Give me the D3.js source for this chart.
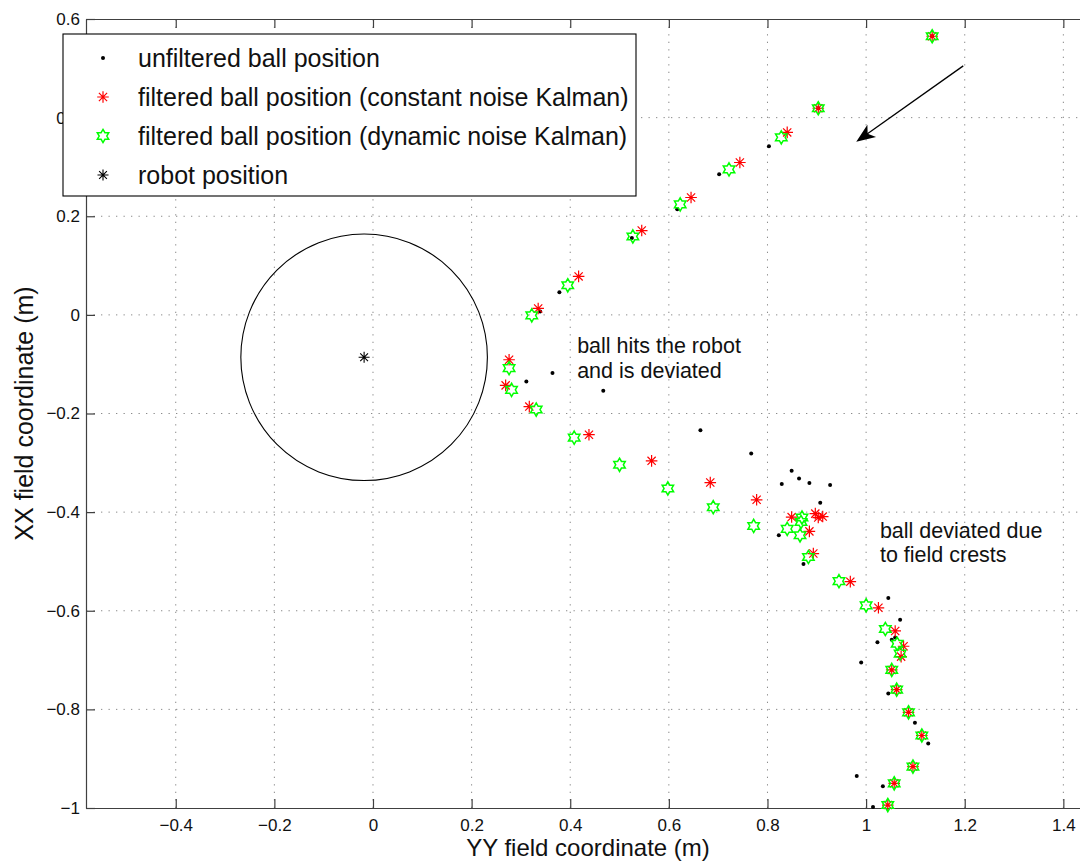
<!DOCTYPE html>
<html>
<head>
<meta charset="utf-8">
<script src="https://cdn.jsdelivr.net/npm/d3@7"></script>
<style>
  body { margin: 0; background: #fff; }
  svg { display: block; font-family: "Liberation Sans", Arial, Helvetica, sans-serif; }
</style>
</head>
<body>
<svg id="chart" width="1080" height="863"></svg>
<script>
// ---- data (metres) ----
// unfiltered ball position
var rawYY = [1.134, 0.903, 0.803, 0.702, 0.617, 0.525, 0.378, 0.339, 0.311, 0.364, 0.467, 0.664, 0.767, 0.849, 0.829, 0.864, 0.885,
             0.927, 0.907, 0.823, 0.873, 1.045, 1.069, 1.059, 1.052, 1.023, 0.990, 1.045, 1.099, 1.126, 0.981, 1.034, 1.014];
var rawXX = [0.565, 0.419, 0.342, 0.285, 0.214, 0.156, 0.046, 0.007, -0.135, -0.118, -0.154, -0.234, -0.281, -0.316, -0.343, -0.332, -0.341,
             -0.345, -0.381, -0.447, -0.505, -0.574, -0.618, -0.654, -0.659, -0.664, -0.705, -0.768, -0.827, -0.869, -0.935, -0.956, -0.998];
// filtered, constant noise Kalman
var constYY = [1.134, 0.903, 0.840, 0.744, 0.645, 0.545, 0.417, 0.335, 0.276, 0.269, 0.317, 0.438, 0.565, 0.684, 0.778, 0.849, 0.897,
               0.903, 0.912, 0.885, 0.893, 0.968, 1.025, 1.059, 1.076, 1.071, 1.052, 1.062, 1.086, 1.113, 1.095, 1.057, 1.044];
var constXX = [0.565, 0.419, 0.370, 0.309, 0.238, 0.171, 0.078, 0.013, -0.091, -0.143, -0.186, -0.243, -0.296, -0.340, -0.375, -0.410, -0.403,
               -0.411, -0.409, -0.439, -0.484, -0.541, -0.594, -0.641, -0.672, -0.693, -0.720, -0.760, -0.806, -0.853, -0.916, -0.950, -0.994];
// filtered, dynamic noise Kalman
var dynYY = [1.134, 0.903, 0.828, 0.722, 0.623, 0.527, 0.395, 0.322, 0.276, 0.281, 0.331, 0.408, 0.500, 0.598, 0.690, 0.772, 0.840,
             0.870, 0.868, 0.866, 0.883, 0.945, 1.000, 1.039, 1.063, 1.069, 1.052, 1.062, 1.086, 1.113, 1.095, 1.057, 1.044];
var dynXX = [0.565, 0.419, 0.360, 0.295, 0.224, 0.159, 0.060, -0.001, -0.108, -0.152, -0.192, -0.249, -0.304, -0.352, -0.390, -0.428, -0.434,
             -0.411, -0.420, -0.447, -0.491, -0.540, -0.589, -0.637, -0.667, -0.687, -0.720, -0.760, -0.806, -0.853, -0.916, -0.950, -0.994];
// robot
var robotYY = -0.018, robotXX = -0.086, robotRadius = 0.25;

var xTicks = [-0.4, -0.2, 0, 0.2, 0.4, 0.6, 0.8, 1, 1.2, 1.4];
var yTicks = [-1, -0.8, -0.6, -0.4, -0.2, 0, 0.2, 0.4, 0.6];
var legendLabels = ["unfiltered ball position",
                    "filtered ball position (constant noise Kalman)",
                    "filtered ball position (dynamic noise Kalman)",
                    "robot position"];
var notes = [
    {yy: 0.414, xx: -0.078, lines: ["ball hits the robot", "and is deviated"]},
    {yy: 1.028, xx: -0.452, lines: ["ball deviated due", "to field crests"]}
];
var arrowFrom = [1.197, 0.505], arrowTo = [0.980, 0.351];

// ---- scales ----
var svg = d3.select("#chart");
var x = d3.scaleLinear().domain([-0.582, 1.45]).range([86, 1088]);
var y = d3.scaleLinear().domain([-1, 0.6]).range([808, 19]);
var fmt = d3.format("");
var axisColor = "#404040";

// grid
var grid = svg.append("g").attr("stroke", "#8a8a8a").attr("stroke-width", 1).attr("stroke-dasharray", "1.3,6.2");
grid.selectAll(".gx").data(xTicks).enter().append("line")
    .attr("x1", function(d) { return x(d); }).attr("x2", function(d) { return x(d); })
    .attr("y1", y.range()[0]).attr("y2", y.range()[1]);
grid.selectAll(".gy").data(yTicks.slice(1, -1)).enter().append("line")
    .attr("y1", function(d) { return y(d); }).attr("y2", function(d) { return y(d); })
    .attr("x1", x.range()[0]).attr("x2", x.range()[1]);

// axes, MATLAB style (ticks inward)
function styleAxis(g) {
    g.select(".domain").attr("stroke", axisColor).attr("stroke-width", 1.2);
    g.selectAll(".tick line").attr("stroke", axisColor).attr("stroke-width", 1.2);
    g.selectAll(".tick text").attr("fill", "#111").attr("font-size", 17);
    g.attr("font-family", null);
}
svg.append("g").attr("transform", "translate(0," + y.range()[0] + ")")
    .call(d3.axisBottom(x).tickValues(xTicks).tickSizeInner(-9).tickSizeOuter(0).tickPadding(11).tickFormat(fmt))
    .call(styleAxis);
svg.append("g").attr("transform", "translate(0," + y.range()[1] + ")")
    .call(d3.axisTop(x).tickValues(xTicks).tickSizeInner(-9).tickSizeOuter(0).tickFormat(""))
    .call(styleAxis);
svg.append("g").attr("transform", "translate(" + x.range()[0] + ",0)")
    .call(d3.axisLeft(y).tickValues(yTicks).tickSizeInner(-9).tickSizeOuter(0).tickPadding(6).tickFormat(fmt))
    .call(styleAxis);

// axis labels
svg.append("text").attr("x", 588).attr("y", 856).attr("text-anchor", "middle")
    .attr("font-size", 24).attr("fill", "#111").text("YY field coordinate (m)");
svg.append("text").attr("transform", "translate(33," + ((y.range()[0] + y.range()[1]) / 2) + ") rotate(-90)")
    .attr("text-anchor", "middle").attr("font-size", 25).attr("fill", "#111").text("XX field coordinate (m)");

// marker paths
function asterisk(r) {
    var p = "", a;
    for (var i = 0; i < 4; i++) {
        a = i * Math.PI / 4;
        p += "M" + (r * Math.cos(a)) + "," + (r * Math.sin(a)) + "L" + (-r * Math.cos(a)) + "," + (-r * Math.sin(a));
    }
    return p;
}
function hexagram(R) {
    var pts = [], r = R / Math.sqrt(3);
    for (var i = 0; i < 12; i++) {
        var a = -Math.PI / 2 + i * Math.PI / 6, rr = i % 2 ? r : R;
        pts.push([rr * Math.cos(a), rr * Math.sin(a)]);
    }
    return "M" + pts.join("L") + "Z";
}
var starPath = asterisk(5.8), hexPath = hexagram(6.6);

var plot = svg.append("g");

// robot circle + centre
plot.append("ellipse")
    .attr("cx", x(robotYY)).attr("cy", y(robotXX))
    .attr("rx", x(robotRadius) - x(0)).attr("ry", y(0) - y(robotRadius))
    .attr("fill", "none").attr("stroke", "#000").attr("stroke-width", 1.1);

// unfiltered points
plot.selectAll(".raw").data(d3.range(rawYY.length)).enter().append("circle")
    .attr("cx", function(i) { return x(rawYY[i]); })
    .attr("cy", function(i) { return y(rawXX[i]); })
    .attr("r", 2).attr("fill", "#000");

// constant noise Kalman
plot.selectAll(".cst").data(d3.range(constYY.length)).enter().append("path")
    .attr("d", starPath)
    .attr("transform", function(i) { return "translate(" + x(constYY[i]) + "," + y(constXX[i]) + ")"; })
    .attr("fill", "none").attr("stroke", "#ff0000").attr("stroke-width", 1.2);

// dynamic noise Kalman
plot.selectAll(".dyn").data(d3.range(dynYY.length)).enter().append("path")
    .attr("d", hexPath)
    .attr("transform", function(i) { return "translate(" + x(dynYY[i]) + "," + y(dynXX[i]) + ")"; })
    .attr("fill", "none").attr("stroke", "#00ff00").attr("stroke-width", 1.5);

plot.append("path").attr("d", asterisk(5.5))
    .attr("transform", "translate(" + x(robotYY) + "," + y(robotXX) + ")")
    .attr("stroke", "#000").attr("stroke-width", 1.1);

// annotations
notes.forEach(function(n) {
    var t = svg.append("text").attr("font-size", 21.5).attr("fill", "#111");
    n.lines.forEach(function(s, k) {
        t.append("tspan").attr("x", x(n.yy)).attr("y", y(n.xx) + k * 24.5).text(s);
    });
});

// arrow
var ax0 = x(arrowFrom[0]), ay0 = y(arrowFrom[1]), ax1 = x(arrowTo[0]), ay1 = y(arrowTo[1]);
var ang = Math.atan2(ay1 - ay0, ax1 - ax0);
svg.append("line").attr("x1", ax0).attr("y1", ay0)
    .attr("x2", ax1 - 12 * Math.cos(ang)).attr("y2", ay1 - 12 * Math.sin(ang))
    .attr("stroke", "#000").attr("stroke-width", 1.3);
svg.append("path")
    .attr("d", "M0,0L-19,-7.5L-14,0L-19,7.5Z")
    .attr("transform", "translate(" + ax1 + "," + ay1 + ") rotate(" + (ang * 180 / Math.PI) + ")")
    .attr("fill", "#000");

// legend
var lg = svg.append("g");
lg.append("rect").attr("x", 63).attr("y", 34).attr("width", 573).attr("height", 162)
    .attr("fill", "#fff").attr("stroke", "#000").attr("stroke-width", 1.1);
var rows = lg.selectAll(".row").data(legendLabels).enter().append("g")
    .attr("transform", function(d, i) { return "translate(0," + (58 + i * 39) + ")"; });
rows.append("text").attr("x", 138).attr("dy", "0.36em").attr("font-size", 25).attr("fill", "#111")
    .text(function(d) { return d; });
rows.filter(function(d, i) { return i === 0; }).append("circle").attr("cx", 103).attr("r", 2).attr("fill", "#000");
rows.filter(function(d, i) { return i === 1; }).append("path").attr("d", starPath)
    .attr("transform", "translate(103,0)").attr("stroke", "#ff0000").attr("stroke-width", 1.2);
rows.filter(function(d, i) { return i === 2; }).append("path").attr("d", hexPath)
    .attr("transform", "translate(103,0)").attr("fill", "none").attr("stroke", "#00ff00").attr("stroke-width", 1.5);
rows.filter(function(d, i) { return i === 3; }).append("path").attr("d", asterisk(5.5))
    .attr("transform", "translate(103,0)").attr("stroke", "#000").attr("stroke-width", 1.1);
</script>
</body>
</html>
